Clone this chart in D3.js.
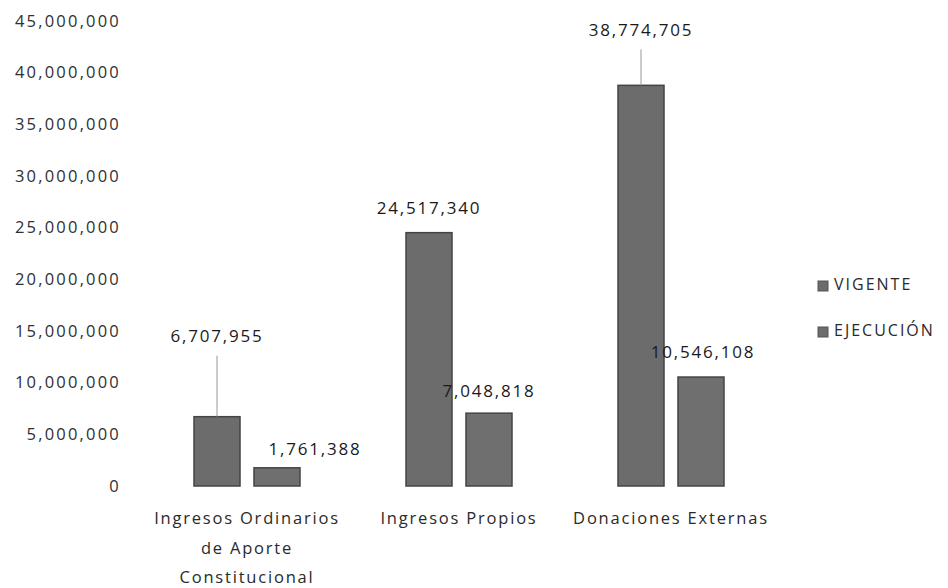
<!DOCTYPE html>
<html><head><meta charset="utf-8">
<script src="https://cdn.jsdelivr.net/npm/d3@7"></script>
<style>
body{margin:0;background:#fff;}
text{font-family:"Open Sans","Lato",sans-serif;}
</style></head>
<body><svg id="c" width="948" height="588"></svg>
<script>
const categories = [["Ingresos Ordinarios","de Aporte","Constitucional"],["Ingresos Propios"],["Donaciones Externas"]];
const categoryKeys = ["Ingresos Ordinarios de Aporte Constitucional","Ingresos Propios","Donaciones Externas"];
const seriesNames = ["VIGENTE","EJECUCIÓN"];
const vigente = [6707955, 24517340, 38774705];
const ejecucion = [1761388, 7048818, 10546108];
const yTicks = [0,5000000,10000000,15000000,20000000,25000000,30000000,35000000,40000000,45000000];

const svg = d3.select("#c");
const y = d3.scaleLinear().domain([0,45000000]).range([486, 21]);
const x0 = d3.scaleBand().domain(categoryKeys).range([141,777]).paddingInner(0.5).paddingOuter(0.25);
const x1 = d3.scaleBand().domain(seriesNames).range([0, x0.bandwidth()]).paddingInner(0.233);
const fmt = d3.format(",");

// y axis labels
const yAxis = d3.axisLeft(y).tickValues(yTicks).tickFormat(fmt).tickSize(0).tickPadding(0);
const ga = svg.append("g").attr("transform","translate(121,0)").call(yAxis);
ga.select(".domain").remove();
ga.selectAll("text").attr("font-family","Open Sans").attr("font-size",16.5).attr("letter-spacing","2.2px")
  .style("fill","#303030").style("font-weight",400);

const data = categoryKeys.map((k,i)=>({key:k, vals:[{s:"VIGENTE",v:vigente[i]},{s:"EJECUCIÓN",v:ejecucion[i]}]}));
const groups = svg.append("g").selectAll("g").data(data).join("g").attr("transform",d=>`translate(${x0(d.key)},0)`);
groups.selectAll("rect").data(d=>d.vals).join("rect")
  .attr("x",d=>x1(d.s)).attr("width",x1.bandwidth())
  .attr("y",d=>y(d.v)).attr("height",d=>y(0)-y(d.v))
  .attr("fill",d=>d.s==="VIGENTE"?"#6c6c6c":"#6f6f6f").attr("stroke","#444").attr("stroke-width",1.5);

// data labels (manual offsets like the original)
const vOff = [{dx:0,dy:-79,line:true},{dx:0,dy:-23,line:false},{dx:0,dy:-54,line:true}];
const eOff = [{dx:38,dy:-17},{dx:0,dy:-21},{dx:2,dy:-24}];
const labelStyle = t => t.attr("text-anchor","middle").attr("dominant-baseline","middle")
    .attr("font-size",17).attr("letter-spacing","1.8px").style("fill","#1a1a1a");
data.forEach((d,i)=>{
  const cx = x0(d.key)+x1("VIGENTE")+x1.bandwidth()/2;
  const ty = y(vigente[i]);
  const o = vOff[i];
  svg.append("text").attr("x",cx+o.dx).attr("y",ty+o.dy).call(labelStyle).text(fmt(vigente[i]));
  if(o.line){
    svg.append("line").attr("x1",cx).attr("x2",cx).attr("y1",ty+o.dy+18).attr("y2",ty).attr("stroke","#999").attr("stroke-width",1);
  }
  const ex = x0(d.key)+x1("EJECUCIÓN")+x1.bandwidth()/2;
  const ey = y(ejecucion[i]);
  svg.append("text").attr("x",ex+eOff[i].dx).attr("y",ey+eOff[i].dy).call(labelStyle).text(fmt(ejecucion[i]));
});

// category labels
data.forEach((d,i)=>{
  const cx = x0(d.key)+x0.bandwidth()/2;
  const t = svg.append("text").attr("text-anchor","middle").attr("font-size",16.5).attr("letter-spacing","1.8px").style("fill","#2a2a2a");
  categories[i].forEach((line,j)=>{
    t.append("tspan").attr("x",cx).attr("y",524+j*29.5).text(line);
  });
});

// legend
const leg = svg.append("g").attr("transform","translate(818,0)");
seriesNames.forEach((s,i)=>{
  const yy = 286 + i*46;
  leg.append("rect").attr("x",0).attr("y",yy-5).attr("width",10).attr("height",10).attr("fill","#6c6c6c").attr("stroke","#555");
  leg.append("text").attr("x",16).attr("y",yy).attr("dominant-baseline","middle").attr("font-size",16).attr("letter-spacing","2px").style("fill","#2a2a2a").text(s);
});
</script></body></html>
